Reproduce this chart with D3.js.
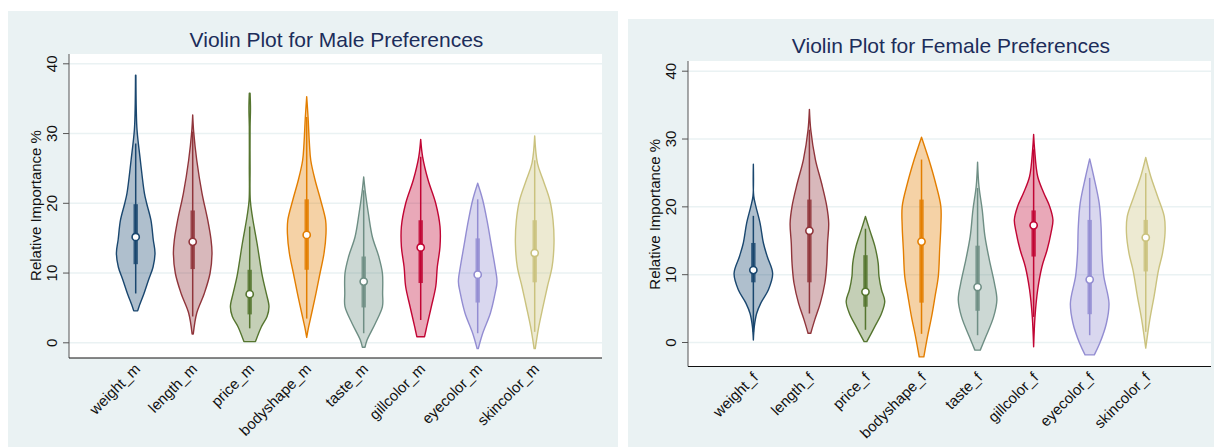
<!DOCTYPE html>
<html>
<head>
<meta charset="utf-8">
<script src="https://cdn.jsdelivr.net/npm/d3@7"></script>
<style>
  body { margin: 0; background: #fff; }
  text { font-family: "Liberation Sans", Arial, sans-serif; }
</style>
</head>
<body>
<div id="chart"></div>
<script>
// categories
const maleCats = ["weight_m", "length_m", "price_m", "bodyshape_m", "taste_m", "gillcolor_m", "eyecolor_m", "skincolor_m"];
const femaleCats = ["weight_f", "length_f", "price_f", "bodyshape_f", "taste_f", "gillcolor_f", "eyecolor_f", "skincolor_f"];
const colors = ["#1a476f", "#90353b", "#55752f", "#e37e00", "#6e8e84", "#c10534", "#938dd2", "#cac27e"];
const yTicks = [0, 10, 20, 30, 40];

// violin outlines, [value, relative density]
const maleDensity = [
  [[4.5, 0.1], [5.1, 0.17], [7.0, 0.43], [8.9, 0.66], [10.8, 0.9], [12.8, 1.0], [14.7, 0.91], [17.5, 0.79], [19.9, 0.57], [21.4, 0.45], [26.1, 0.24], [30.4, 0.07], [33.3, 0.03], [38.3, 0.01]],
  [[1.2, 0.03], [4.2, 0.21], [7.0, 0.6], [9.9, 0.9], [12.8, 1.0], [14.7, 0.95], [17.5, 0.78], [21.4, 0.48], [26.1, 0.21], [30.2, 0.05], [32.6, 0.0]],
  [[0.1, 0.3], [2.2, 0.6], [3.7, 0.9], [5.1, 1.0], [7.0, 0.86], [9.4, 0.66], [14.2, 0.38], [18.0, 0.14], [20.4, 0.03], [25.0, 0.02], [30.9, 0.02], [33.5, 0.04], [35.7, 0.02]],
  [[0.7, 0.0], [2.2, 0.1], [4.2, 0.26], [7.0, 0.48], [9.9, 0.69], [12.8, 0.9], [15.6, 1.0], [17.5, 0.98], [20.4, 0.72], [23.3, 0.43], [26.1, 0.21], [28.5, 0.14], [32.3, 0.07], [35.2, 0.0]],
  [[-0.7, 0.07], [0.3, 0.17], [2.7, 0.6], [5.1, 0.97], [7.0, 0.98], [9.9, 0.97], [12.3, 0.78], [15.1, 0.45], [18.5, 0.24], [21.4, 0.09], [23.7, 0.0]],
  [[0.8, 0.2], [2.2, 0.31], [5.1, 0.55], [8.0, 0.78], [10.8, 0.86], [13.7, 1.0], [16.6, 1.0], [19.9, 0.78], [23.3, 0.38], [26.6, 0.1], [29.1, 0.0]],
  [[-0.9, 0.03], [1.3, 0.26], [4.2, 0.66], [7.0, 0.9], [8.7, 1.0], [10.8, 0.9], [13.7, 0.72], [17.5, 0.48], [20.4, 0.26], [22.8, 0.0]],
  [[-0.9, 0.03], [2.2, 0.21], [5.1, 0.43], [8.0, 0.66], [10.8, 0.9], [14.2, 1.0], [17.5, 0.95], [20.4, 0.78], [23.3, 0.43], [25.7, 0.14], [29.6, 0.0]]
];
const femaleDensity = [
  [[0.3, 0.0], [2.3, 0.05], [4.2, 0.17], [5.7, 0.38], [7.7, 0.78], [10.1, 1.0], [12.6, 0.72], [14.6, 0.52], [17.5, 0.35], [20.0, 0.13], [21.5, 0.02], [26.2, 0.0]],
  [[1.3, 0.07], [3.3, 0.28], [5.7, 0.56], [8.7, 0.8], [11.6, 0.9], [14.6, 0.94], [17.5, 1.0], [20.0, 0.9], [23.4, 0.63], [26.9, 0.31], [31.3, 0.07], [34.3, 0.0]],
  [[0.05, 0.07], [2.3, 0.49], [4.2, 0.83], [6.0, 1.0], [7.7, 0.83], [9.7, 0.7], [11.6, 0.66], [14.1, 0.49], [16.6, 0.21], [18.5, 0.0]],
  [[-2.2, 0.12], [0.8, 0.31], [3.7, 0.52], [6.7, 0.7], [9.7, 0.87], [13.6, 0.94], [17.0, 1.0], [20.0, 1.0], [23.4, 0.73], [26.9, 0.38], [30.2, 0.0]],
  [[-1.2, 0.14], [0.8, 0.43], [3.7, 0.83], [6.2, 1.0], [8.7, 0.87], [12.1, 0.61], [15.6, 0.38], [19.5, 0.24], [23.0, 0.07], [26.5, 0.0]],
  [[-0.7, 0.0], [3.7, 0.07], [7.7, 0.21], [11.1, 0.43], [13.6, 0.7], [16.1, 0.9], [18.0, 1.0], [20.0, 0.83], [22.0, 0.52], [24.4, 0.21], [28.4, 0.05], [30.6, 0.0]],
  [[-1.9, 0.24], [-0.2, 0.52], [2.8, 0.87], [5.7, 1.0], [9.7, 0.73], [13.1, 0.63], [17.0, 0.59], [20.5, 0.49], [24.4, 0.21], [27.0, 0.0]],
  [[-0.9, 0.0], [3.3, 0.21], [6.7, 0.43], [10.6, 0.66], [13.1, 0.87], [16.1, 1.0], [18.5, 0.96], [21.5, 0.61], [24.4, 0.26], [27.2, 0.0]]
];

// box stats: [lower whisker, q1, median, q3, upper whisker]
const maleBoxes = [
  [7.0, 11.2, 15.1, 19.8, 28.5],
  [3.7, 10.5, 14.4, 18.9, 30.2],
  [2.0, 4.0, 6.9, 10.4, 16.6],
  [3.4, 10.4, 15.4, 20.5, 32.3],
  [1.3, 5.0, 8.7, 12.3, 21.8],
  [3.2, 8.5, 13.6, 17.5, 26.6],
  [1.3, 5.7, 9.7, 14.9, 20.5],
  [1.5, 8.6, 12.8, 17.5, 26.1]
];
const femaleBoxes = [
  [1.5, 8.8, 10.6, 14.6, 18.6],
  [4.2, 8.8, 16.4, 21.0, 31.3],
  [1.8, 5.2, 7.4, 12.8, 16.7],
  [1.2, 5.8, 14.8, 21.0, 26.9],
  [1.0, 4.6, 8.1, 14.2, 22.7],
  [3.7, 12.6, 17.2, 19.4, 28.4],
  [1.0, 4.1, 9.2, 18.0, 24.2],
  [1.5, 10.4, 15.4, 18.0, 24.9]
];

const svg = d3.select("#chart").append("svg")
  .attr("width", 1214)
  .attr("height", 447);

function drawPanel(p) {
  const g = svg.append("g");

  g.append("rect")
    .attr("x", p.bg[0]).attr("y", p.bg[1])
    .attr("width", p.bg[2]).attr("height", p.bg[3])
    .attr("fill", "#eaf2f3");

  g.append("rect")
    .attr("x", p.left).attr("y", p.top)
    .attr("width", p.right - p.left).attr("height", p.bottom - p.top)
    .attr("fill", "#fff");

  const x = d3.scaleLinear().domain([0, 9]).range(p.xRange);
  const y = d3.scaleLinear().domain([0, 40]).range(p.yRange);
  const w = d3.scaleLinear().domain([0, 1]).range([0, 19.3]);

  // grid
  g.append("g")
    .attr("transform", `translate(${p.left},0)`)
    .call(d3.axisLeft(y).tickValues(yTicks).tickSize(-(p.right - p.left)).tickFormat(""))
    .call(s => s.select(".domain").remove())
    .call(s => s.selectAll("line").attr("stroke", "#eaf2f3").attr("stroke-width", 1.5));

  const area = d3.area()
    .y(d => y(d[0]))
    .curve(d3.curveCatmullRom.alpha(0.5));

  p.cats.forEach((c, i) => {
    const cx = x(i + 1);
    const col = colors[i];
    const b = p.boxes[i];
    g.append("path")
      .datum(p.density[i])
      .attr("d", area.x0(d => cx - w(d[1])).x1(d => cx + w(d[1])))
      .attr("fill", col).attr("fill-opacity", 0.35)
      .attr("stroke", col).attr("stroke-width", 1.4)
      .attr("stroke-linejoin", "round");
    g.append("line")
      .attr("x1", cx).attr("x2", cx)
      .attr("y1", y(b[0])).attr("y2", y(b[4]))
      .attr("stroke", col).attr("stroke-width", 1.5);
    g.append("rect")
      .attr("x", cx - 2.2).attr("width", 4.4)
      .attr("y", y(b[3])).attr("height", y(b[1]) - y(b[3]))
      .attr("fill", col).attr("fill-opacity", 0.85);
    g.append("circle")
      .attr("cx", cx).attr("cy", y(b[2])).attr("r", 3.6)
      .attr("fill", "#fff").attr("stroke", col).attr("stroke-width", 1.6);
  });

  // y axis
  const ya = g.append("g")
    .attr("transform", `translate(${p.left},0)`)
    .call(d3.axisLeft(y).tickValues(yTicks).tickSize(6).tickPadding(6));
  ya.select(".domain").attr("d", `M0,${p.top}V${p.bottom}`).attr("stroke", "#555");
  ya.selectAll(".tick line").attr("stroke", "#555");
  ya.selectAll(".tick text")
    .attr("font-size", 15).attr("fill", "#111")
    .attr("text-anchor", "middle")
    .attr("transform", "rotate(-90)")
    .attr("x", 0).attr("y", -12).attr("dy", "0");

  // x axis
  const xa = g.append("g")
    .attr("transform", `translate(0,${p.bottom})`)
    .call(d3.axisBottom(x).tickValues(d3.range(1, 9)).tickFormat(d => p.cats[d - 1]).tickSize(0));
  xa.select(".domain").attr("d", `M${p.left},0H${p.right}`).attr("stroke", "#111");
  xa.selectAll(".tick text")
    .attr("font-size", 15).attr("fill", "#111")
    .attr("text-anchor", "end")
    .attr("y", 0).attr("dy", "0")
    .attr("transform", "translate(5,12) rotate(-45)");

  g.append("text")
    .attr("transform", `translate(${p.yTitleX},${(p.top + p.bottom) / 2 + p.yTitleShift}) rotate(-90)`)
    .attr("text-anchor", "middle")
    .attr("font-size", 15).attr("fill", "#111")
    .text("Relative Importance %");

  g.append("text")
    .attr("x", p.titleX).attr("y", p.titleY)
    .attr("text-anchor", "middle")
    .attr("font-size", 21).attr("fill", "#1c2d5a")
    .text(p.title);
}

drawPanel({
  bg: [8, 11, 610, 436],
  left: 69, right: 602, top: 54, bottom: 358,
  xRange: [78.7, 591.7], yRange: [342.3, 63.3],
  cats: maleCats, density: maleDensity, boxes: maleBoxes,
  yTitleX: 41, yTitleShift: -0.5,
  title: "Violin Plot for Male Preferences", titleX: 336.5, titleY: 46.5
});

drawPanel({
  bg: [628, 19, 586, 428],
  left: 688, right: 1211, top: 61, bottom: 366.5,
  xRange: [697.3, 1201.8], yRange: [342, 70.7],
  cats: femaleCats, density: femaleDensity, boxes: femaleBoxes,
  yTitleX: 660, yTitleShift: 0.5,
  title: "Violin Plot for Female Preferences", titleX: 951, titleY: 53.3
});
</script>
</body>
</html>
